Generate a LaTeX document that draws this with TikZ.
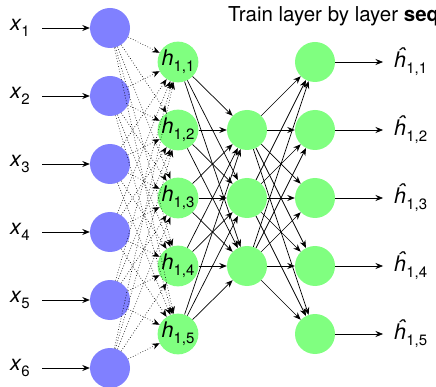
\documentclass[tikz,border=0pt]{standalone}
\usepackage{fontspec}
\setmainfont{TeX Gyre Heros}
\usetikzlibrary{arrows.meta}
\newcommand{\sub}[1]{\raisebox{-0.3em}{\fontsize{15}{17}\selectfont #1}}
\begin{document}
\begin{tikzpicture}[x=1pt,y=-1pt,
  inp/.style={circle,fill=blue!50,minimum size=40pt,inner sep=0pt},
  hid/.style={circle,fill=green!50,minimum size=40pt,inner sep=0pt,font=\fontsize{21.5}{24}\selectfont},
  lbl/.style={inner ysep=0pt,font=\fontsize{21.5}{24}\selectfont},
  conn/.style={-{Stealth[length=7.5pt,width=6pt,inset=2.5pt]},line width=0.7pt},
  dconn/.style={conn,dotted},
  ]
\useasboundingbox (0,0) rectangle (436,387);
\node[anchor=base west,inner sep=0pt,font=\fontsize{20.5}{24}\selectfont] (title) at (228,22) {Train layer by layer \textbf{sequentially}};
\foreach \i in {1,...,6} {
  \node[inp] (x\i) at (110,{28+68*(\i-1)}) {};
  \node[lbl,anchor=east,inner xsep=12pt] (l\i) at (42,{28+68*(\i-1)}) {\textit{x}\sub{\i}};
  \draw[conn] (l\i.east) -- (x\i);
}
\foreach \j in {1,...,5} {
  \node[hid] (h\j) at (178,{62+68*(\j-1)}) {\textit{h}\sub{1,\j}};
  \node[hid] (o\j) at (315,{62+68*(\j-1)}) {};
  \node[lbl,anchor=west,inner xsep=11pt] (ol\j) at (383,{62+68*(\j-1)}) {\textit{ĥ}\sub{1,\j}};
  \draw[conn] (o\j) -- (ol\j.west);
}
\foreach \k in {1,2,3} {
  \node[hid] (m\k) at (247,{130+68*(\k-1)}) {};
}
\foreach \i in {1,...,6} {
  \foreach \j in {1,...,5} {
    \draw[dconn,line width=0.6pt] (x\i) -- (h\j);
  }
}
\foreach \j in {1,...,5} {
  \foreach \k in {1,2,3} {
    \draw[conn] (h\j) -- (m\k);
    \draw[conn] (m\k) -- (o\j);
  }
}
\end{tikzpicture}
\end{document}
